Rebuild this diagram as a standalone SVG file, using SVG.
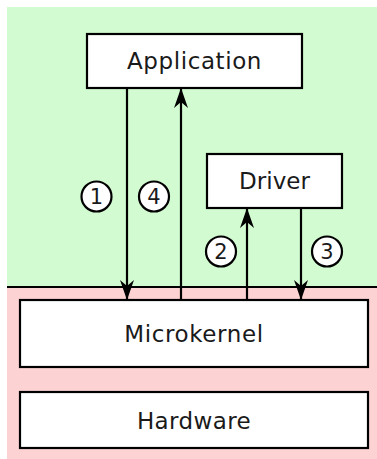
<svg xmlns="http://www.w3.org/2000/svg" width="377" height="459" viewBox="0 0 377 459">
<style>
.box{fill:#fff;stroke:#000;stroke-width:2.2}
.lbl{font-family:"DejaVu Sans",sans-serif;font-size:23px;text-anchor:middle;fill:#1a1a1a}
.num{font-family:"DejaVu Sans",sans-serif;font-size:21px;text-anchor:middle;fill:#1a1a1a}
.circ{fill:#fff;stroke:#000;stroke-width:2.2}
.conn{stroke:#000;stroke-width:2.2;fill:none}
</style>
<defs>
<marker id="ah" viewBox="0 0 20 14" refX="19" refY="7" markerWidth="20" markerHeight="14" markerUnits="userSpaceOnUse" orient="auto">
<path d="M0,0 L20,7 L0,14 L6,7 Z" fill="#000"/>
</marker>
</defs>
<rect x="7" y="7" width="370" height="280" fill="#d3fbd1"/>
<rect x="7" y="287" width="370" height="172" fill="#fdd2d2"/>
<line x1="7" y1="287" x2="377" y2="287" stroke="#000" stroke-width="2"/>
<g id="connectors">
<line class="conn" x1="127" y1="88" x2="127" y2="299" marker-end="url(#ah)"/>
<line class="conn" x1="181" y1="300" x2="181" y2="89" marker-end="url(#ah)"/>
<line class="conn" x1="247" y1="300" x2="247" y2="209" marker-end="url(#ah)"/>
<line class="conn" x1="301" y1="208" x2="301" y2="299" marker-end="url(#ah)"/>
<g id="step1"><circle class="circ" cx="96.5" cy="196.5" r="15"/><text class="num" x="96.5" y="204">1</text></g>
<g id="step4"><circle class="circ" cx="154" cy="196.5" r="15"/><text class="num" x="154" y="204">4</text></g>
<g id="step2"><circle class="circ" cx="221" cy="251.5" r="15"/><text class="num" x="221" y="259">2</text></g>
<g id="step3"><circle class="circ" cx="327" cy="251.5" r="15"/><text class="num" x="327" y="259">3</text></g>
</g>
<g id="application"><rect class="box" x="87" y="34" width="215" height="54"/><text class="lbl" x="194.5" y="69" letter-spacing="0.6">Application</text></g>
<g id="driver"><rect class="box" x="207" y="154" width="135" height="54"/><text class="lbl" x="274.5" y="189">Driver</text></g>
<g id="microkernel"><rect class="box" x="20" y="300" width="348" height="67"/><text class="lbl" x="194" y="342" letter-spacing="0.6">Microkernel</text></g>
<g id="hardware"><rect class="box" x="20" y="392" width="348" height="56"/><text class="lbl" x="194" y="429" letter-spacing="0.4">Hardware</text></g>
</svg>
